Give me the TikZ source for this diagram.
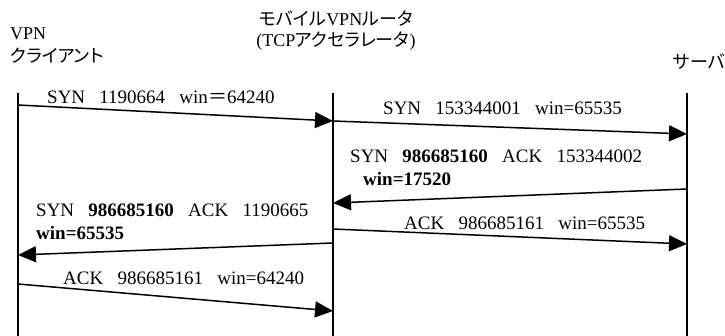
\documentclass[tikz,border=0pt]{standalone}
\usepackage{fontspec}
\setmainfont{Liberation Serif}
\newfontfamily\jpfont[Scale=1.0, RawFeature=+palt]{Noto Sans CJK JP}
\newcommand\jp[1]{{\jpfont #1}}
\newcommand\gap{\hspace{0.75em}}
\usetikzlibrary{arrows.meta}

\begin{document}
\begin{tikzpicture}[
  x=1pt, y=-1pt,
  every node/.style={font=\fontsize{18}{23}\selectfont, inner sep=0pt},
  lifeline/.style={line width=2.6pt},
  msg/.style={line width=1.5pt, -{Triangle[length=18pt, width=16pt]}},
  lbl/.style={anchor=west, align=left},
  msglbl/.style={lbl, font=\fontsize{19}{23}\selectfont}
]
\useasboundingbox (0,0) rectangle (725,336);

% Headers
\node[lbl] (client) at (10,45.5) {VPN\\\jp{クライアント}};
\node[align=center, font=\fontsize{18}{21}\selectfont] (router) at (336,31)
  {\jp{モバイル}VPN\jp{ルータ}\\(TCP\jp{アクセラレータ})};
\node[anchor=east] (server) at (725,62) {\jp{サーバ}};

% Lifelines
\coordinate (client top) at (18,93);  \coordinate (client bot) at (18,336);
\coordinate (router top) at (333,93); \coordinate (router bot) at (333,336);
\coordinate (server top) at (687,93); \coordinate (server bot) at (687,336);
\draw[lifeline] (client top) -- (client bot);
\draw[lifeline] (router top) -- (router bot);
\draw[lifeline] (server top) -- (server bot);

% Message end points
\coordinate (c1) at (18,105);  \coordinate (r1) at (333,121);
\coordinate (s2) at (687,134);
\coordinate (s3) at (687,189); \coordinate (r3) at (333,203);
\coordinate (r4) at (333,243); \coordinate (c4) at (18,255);
\coordinate (r5) at (333,229); \coordinate (s5) at (687,244);
\coordinate (c6) at (18,284);  \coordinate (r6) at (333,311);

% Messages
\draw[msg] (c1) -- (r1);
\draw[msg] (r1) -- (s2);
\draw[msg] (s3) -- (r3);
\draw[msg] (r4) -- (c4);
\draw[msg] (r5) -- (s5);
\draw[msg] (c6) -- (r6);

% Labels
\node[msglbl] (syn1) at (47,97) {SYN\gap 1190664\gap win\jp{＝}64240};
\node[msglbl] (syn2) at (383,108) {SYN\gap 153344001\gap win=65535};
\node[msglbl] (synack1) at (350,167.5)
  {SYN\gap\textbf{986685160}\gap ACK\gap 153344002\\\hspace*{13pt}\textbf{win=17520}};
\node[msglbl] (synack2) at (36,221.5)
  {SYN\gap\textbf{986685160}\gap ACK\gap 1190665\\\textbf{win=65535}};
\node[msglbl] (ack1) at (404,223) {ACK\gap 986685161\gap win=65535};
\node[msglbl] (ack2) at (63,278) {ACK\gap 986685161\gap win=64240};

\end{tikzpicture}
\end{document}
